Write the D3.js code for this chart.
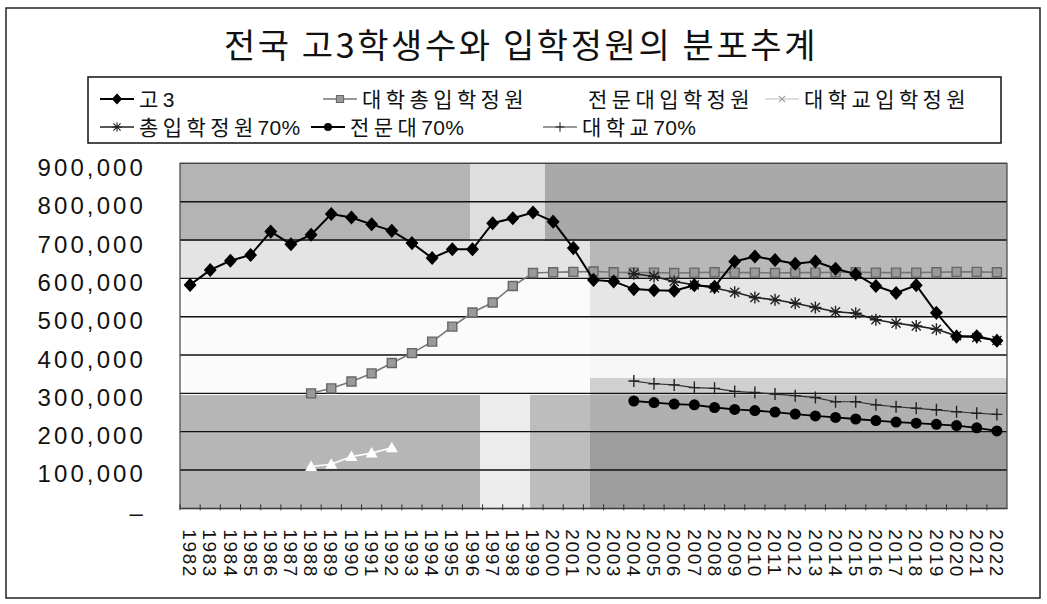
<!DOCTYPE html>
<html>
<head>
<meta charset="utf-8">
<script src="https://cdn.jsdelivr.net/npm/d3@7"></script>
<style>
  body { margin: 0; background: #fff; }
  svg text { font-family: "Liberation Sans", Arial, sans-serif; }
  .kr { font-family: "Noto Sans CJK KR", sans-serif; }
</style>
</head>
<body>
<div id="chart"></div>
<script>
// categories
const years = [1982, 1983, 1984, 1985, 1986, 1987, 1988, 1989, 1990, 1991, 1992, 1993, 1994, 1995,
  1996, 1997, 1998, 1999, 2000, 2001, 2002, 2003, 2004, 2005, 2006, 2007, 2008, 2009, 2010,
  2011, 2012, 2013, 2014, 2015, 2016, 2017, 2018, 2019, 2020, 2021, 2022];

// 고3 (1982-2022)
const go3 = [583000, 622000, 646000, 661000, 722000, 689000, 714000, 768000, 759000, 741000,
  724000, 692000, 653000, 676000, 676000, 744000, 757000, 772000, 748000, 679000,
  596000, 592000, 572000, 569000, 568000, 582000, 578000, 644000, 657000, 648000,
  638000, 644000, 625000, 611000, 580000, 562000, 582000, 510000, 448000, 449000, 437000];

// 대학총입학정원 (1988-2022)
const totalQuotaYears = [1988, 1989, 1990, 1991, 1992, 1993, 1994, 1995, 1996, 1997, 1998, 1999,
  2000, 2001, 2002, 2003, 2004, 2005, 2006, 2007, 2008, 2009, 2010, 2011, 2012, 2013, 2014,
  2015, 2016, 2017, 2018, 2019, 2020, 2021, 2022];
const totalQuota = [300000, 313000, 331000, 352000, 379000, 405000, 435000, 474000, 511000, 537000,
  580000, 614000, 616000, 617000, 618000, 616000, 615000, 615000, 614000, 615000, 616000,
  615000, 615000, 614000, 615000, 615000, 616000, 616000, 615000, 615000, 615000, 616000,
  617000, 617000, 616000];

// 전문대입학정원 (only the visible part)
const juniorYears = [1988, 1989, 1990, 1991, 1992];
const juniorQuota = [109000, 115000, 135000, 144000, 158000];

// 대학교입학정원 (not readable in the picture)
const univYears = [];
const univQuota = [];

// 70% scenarios (2004-2022)
const scenYears = [2004, 2005, 2006, 2007, 2008, 2009, 2010, 2011, 2012, 2013, 2014, 2015,
  2016, 2017, 2018, 2019, 2020, 2021, 2022];
const total70 = [612000, 605000, 592000, 583000, 575000, 564000, 550000, 544000, 535000, 524000,
  513000, 509000, 492000, 483000, 476000, 467000, 450000, 446000, 438000];
const junior70 = [280000, 276000, 272000, 270000, 263000, 258000, 255000, 251000, 246000, 241000,
  237000, 233000, 229000, 225000, 222000, 219000, 216000, 210000, 202000];
const univ70 = [332000, 325000, 322000, 315000, 313000, 305000, 302000, 298000, 294000, 289000,
  278000, 278000, 270000, 265000, 261000, 257000, 252000, 248000, 245000];

const yTicks = [0, 100000, 200000, 300000, 400000, 500000, 600000, 700000, 800000, 900000];
const title = "전국 고3학생수와 입학정원의 분포추계";

const W = 1047, H = 604;
const plot = { left: 180, right: 1007, top: 163.4, bottom: 508.3 };

const svg = d3.select("#chart").append("svg")
  .attr("width", W).attr("height", H);

// outer frame
svg.append("rect")
  .attr("x", 6).attr("y", 8).attr("width", 1034).attr("height", 590)
  .attr("fill", "#fff").attr("stroke", "#222").attr("stroke-width", 1.5);

svg.append("text")
  .attr("class", "kr")
  .attr("x", 521).attr("y", 58)
  .attr("text-anchor", "middle")
  .attr("font-size", 34)
  .attr("letter-spacing", 2.6)
  .attr("fill", "#111")
  .text(title);

const x = d3.scaleBand().domain(years).range([plot.left, plot.right]).padding(0);
const y = d3.scaleLinear().domain([0, 900000]).range([plot.bottom, plot.top]);
const cx = yr => x(yr) + x.bandwidth() / 2;

// scanned-looking background patches
const patches = [
  [180, 163, 1007, 508, "#c2c2c2"],
  [180, 163, 470, 241, "#b4b4b4"],
  [470, 163, 545, 270, "#dedede"],
  [545, 163, 1007, 241, "#a9a9a9"],
  [590, 241, 1007, 279, "#b8b8b8"],
  [180, 241, 590, 279, "#e4e4e4"],
  [180, 279, 590, 395, "#fbfbfb"],
  [590, 279, 1007, 317, "#e6e6e6"],
  [590, 317, 1007, 378, "#f6f6f6"],
  [590, 378, 1007, 395, "#d0d0d0"],
  [180, 395, 480, 508, "#b6b6b6"],
  [480, 395, 530, 508, "#ececec"],
  [530, 395, 590, 508, "#bdbdbd"],
  [590, 395, 1007, 432, "#b0b0b0"],
  [590, 432, 1007, 508, "#9d9d9d"]
];
svg.append("g").selectAll("rect").data(patches).join("rect")
  .attr("x", d => d[0]).attr("y", d => d[1])
  .attr("width", d => d[2] - d[0]).attr("height", d => d[3] - d[1])
  .attr("fill", d => d[4]);

// gridlines
svg.append("g").selectAll("line").data(yTicks.slice(1)).join("line")
  .attr("x1", plot.left).attr("x2", plot.right)
  .attr("y1", d => y(d)).attr("y2", d => y(d))
  .attr("stroke", "#111").attr("stroke-width", 1.4);

svg.append("rect")
  .attr("x", plot.left).attr("y", plot.top)
  .attr("width", plot.right - plot.left).attr("height", plot.bottom - plot.top)
  .attr("fill", "none").attr("stroke", "#444").attr("stroke-width", 1.2);

// y axis
const yAxis = svg.append("g")
  .attr("transform", `translate(${plot.left},0)`)
  .call(d3.axisLeft(y).tickValues(yTicks).tickSize(0).tickPadding(34)
    .tickFormat(d => d === 0 ? "–" : d3.format(",")(d)));
yAxis.select(".domain").remove();
yAxis.selectAll("text")
  .attr("font-size", 24).attr("letter-spacing", 3.1).attr("fill", "#111")
  .attr("dy", "0.5em");

// x axis
const xAxis = svg.append("g")
  .attr("transform", `translate(0,${plot.bottom})`)
  .call(d3.axisBottom(x).tickSize(0).tickSizeOuter(0));
xAxis.select(".domain").attr("stroke", "#333");
xAxis.selectAll("text")
  .attr("transform", "rotate(90)")
  .attr("x", 21).attr("y", 0).attr("dy", "0.36em")
  .attr("text-anchor", "start")
  .attr("font-size", 19).attr("letter-spacing", 1.6).attr("fill", "#111");
svg.append("g").selectAll("line").data(years).join("line")
  .attr("x1", d => x(d)).attr("x2", d => x(d))
  .attr("y1", plot.bottom - 4).attr("y2", plot.bottom + 2)
  .attr("stroke", "#333");

// markers
const diamond = "M0,-6L5.5,0L0,6L-5.5,0Z";
const square = "M-4.5,-4.5H4.5V4.5H-4.5Z";
const triangle = "M0,-6L6,4.5H-6Z";
const xMark = "M-4,-4L4,4M-4,4L4,-4";
const plusMark = "M-5.5,0H5.5M0,-6V6";
const aster = "M-6,0H6M0,-6V6M-4.5,-4.5L4.5,4.5M-4.5,4.5L4.5,-4.5";

const series = [
  { name: "고3", yrs: years, vals: go3, line: "#000", lw: 2, mark: diamond, fill: "#000", stroke: "#000" },
  { name: "대학총입학정원", yrs: totalQuotaYears, vals: totalQuota, line: "#777", lw: 1.6, mark: square, fill: "#9a9a9a", stroke: "#666" },
  { name: "전문대입학정원", yrs: juniorYears, vals: juniorQuota, line: "#fff", lw: 1.6, mark: triangle, fill: "#fff", stroke: "none" },
  { name: "대학교입학정원", yrs: univYears, vals: univQuota, line: "#bbb", lw: 1.2, mark: xMark, fill: "none", stroke: "#999" },
  { name: "총입학정원70%", yrs: scenYears, vals: total70, line: "#222", lw: 1.6, mark: aster, fill: "none", stroke: "#222" },
  { name: "전문대70%", yrs: scenYears, vals: junior70, line: "#000", lw: 1.8, mark: "circle", fill: "#000", stroke: "#000" },
  { name: "대학교70%", yrs: scenYears, vals: univ70, line: "#333", lw: 1.2, mark: plusMark, fill: "none", stroke: "#222" }
];

const line = d3.line().x(d => cx(d[0])).y(d => y(d[1]));
const drawOrder = [6, 5, 3, 2, 1, 4, 0];
drawOrder.forEach(i => {
  const s = series[i];
  const pts = s.yrs.map((yr, k) => [yr, s.vals[k]]);
  const g = svg.append("g");
  g.append("path").datum(pts).attr("d", line)
    .attr("fill", "none").attr("stroke", s.line).attr("stroke-width", s.lw);
  const m = g.selectAll(".m").data(pts).join(s.mark === "circle" ? "circle" : "path")
    .attr("class", "m");
  if (s.mark === "circle") {
    m.attr("cx", d => cx(d[0])).attr("cy", d => y(d[1])).attr("r", 5.5)
      .attr("fill", s.fill);
  } else {
    m.attr("d", s.mark)
      .attr("transform", d => `translate(${cx(d[0])},${y(d[1])})`)
      .attr("fill", s.fill).attr("stroke", s.stroke).attr("stroke-width", 1.4);
  }
});

// legend
const lg = svg.append("g");
lg.append("rect")
  .attr("x", 88).attr("y", 77).attr("width", 913).attr("height", 66)
  .attr("fill", "#fff").attr("stroke", "#111").attr("stroke-width", 1.5);
const legendPos = [
  [100, 99], [323, 99], [549, 99], [765, 99],
  [100, 127], [311, 127], [543, 127]
];
series.forEach((s, i) => {
  const [lx, ly] = legendPos[i];
  const item = lg.append("g").attr("transform", `translate(${lx},${ly})`);
  item.append("line").attr("x1", 0).attr("x2", 34).attr("y1", 0).attr("y2", 0)
    .attr("stroke", s.line).attr("stroke-width", s.lw);
  if (s.mark === "circle") {
    item.append("circle").attr("cx", 17).attr("cy", 0).attr("r", 4).attr("fill", s.fill);
  } else {
    item.append("path").attr("d", s.mark)
      .attr("transform", "translate(17,0) scale(0.8)")
      .attr("fill", s.fill).attr("stroke", s.stroke).attr("stroke-width", 1.3);
  }
  // Hangul part in the CJK font, digits in a narrower Latin font
  const m = s.name.match(/^([^0-9]*)(.*)$/);
  const t = item.append("text")
    .attr("x", 39).attr("y", 0).attr("dy", "0.36em")
    .attr("font-size", 21).attr("fill", "#111");
  t.append("tspan").attr("class", "kr").attr("letter-spacing", 4.4).text(m[1]);
  if (m[2]) t.append("tspan").attr("letter-spacing", 0.3).text(m[2]);
});
</script>
</body>
</html>
